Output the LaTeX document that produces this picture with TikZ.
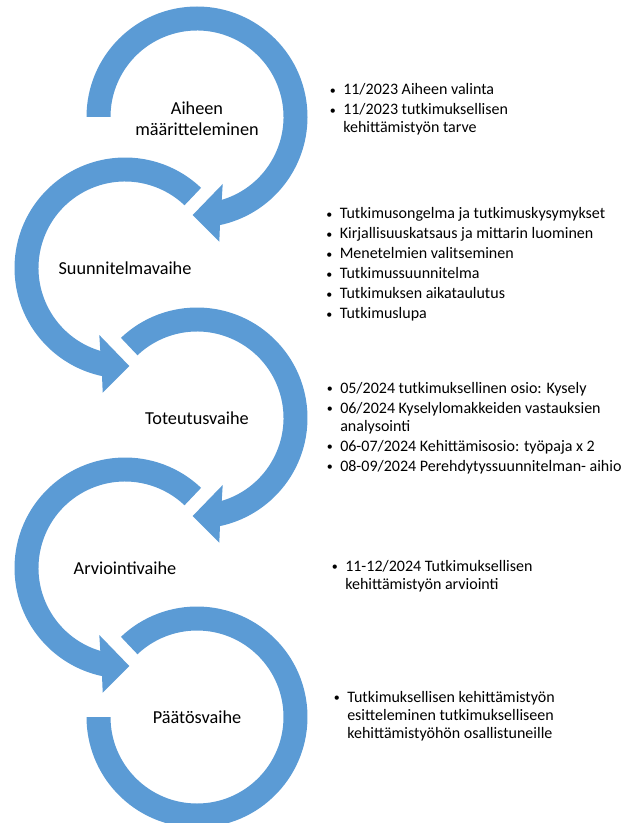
\documentclass[tikz,border=0pt]{standalone}
\usepackage{fontspec}
\setmainfont{Carlito}
\definecolor{ringblue}{HTML}{5B9BD5}
\newcommand{\stepbullet}{\llap{\raisebox{0.7pt}{\scalebox{0.75}{\textbullet}}\hspace{5.5pt}}}

\begin{document}
\begin{tikzpicture}[x=0.75pt,y=-0.75pt,
    ring/.style={fill=ringblue},
    phase/.style={align=center,inner sep=0pt,font=\fontsize{13.7}{15.75}\selectfont},
    steps/.style={anchor=base west,inner sep=0pt,font=\fontsize{12}{13.5}\selectfont}]
  \clip (0,0) rectangle (622,823);
  \coordinate (c1) at (197,117);
  \coordinate (c2) at (125,268);
  \coordinate (c3) at (197,418);
  \coordinate (c4) at (125,568);
  \coordinate (c5) at (197,717);
  % circular arrows
  \foreach \c/\a/\m in {c1/180/1, c2/226.5/-1, c3/226.5/1, c4/226.5/-1}{
    \fill[ring,shift={(\c)},xscale=\m] (\a:110.5) arc[start angle=\a,end angle=438,radius=110.5]
      -- (22.3,124.7) -- (-4.3,98) -- (25.7,67) -- (433.4:86.5)
      arc[start angle=433.4,end angle=\a,radius=86.5] -- cycle;
  }
  \fill[ring,shift={(c5)}] (226.5:110.5) arc[start angle=226.5,end angle=540,radius=110.5]
    -- (540:86.5) arc[start angle=540,end angle=226.5,radius=86.5] -- cycle;
  % phases
  \node[phase] (p1) at ([yshift=-1.5]c1) {Aiheen\\määritteleminen};
  \node[phase] (p2) at (c2) {Suunnitelmavaihe};
  \node[phase] (p3) at (c3) {Toteutusvaihe};
  \node[phase] (p4) at (c4) {Arviointivaihe};
  \node[phase] (p5) at (c5) {Päätösvaihe};
  % tasks
  \node[steps] (s1) at (343,95) {\begin{tabular}[t]{@{}l@{}}
    \stepbullet 11/2023 Aiheen valinta\\[1.5pt]
    \stepbullet 11/2023 tutkimuksellisen\\
    kehittämistyön tarve
  \end{tabular}};
  \node[steps] (s2) at (339.5,219) {\begin{tabular}[t]{@{}l@{}}
    \stepbullet Tutkimusongelma ja tutkimuskysymykset\\[1.5pt]
    \stepbullet Kirjallisuuskatsaus ja mittarin luominen\\[1.5pt]
    \stepbullet Menetelmien valitseminen\\[1.5pt]
    \stepbullet Tutkimussuunnitelma\\[1.5pt]
    \stepbullet Tutkimuksen aikataulutus\\[1.5pt]
    \stepbullet Tutkimuslupa
  \end{tabular}};
  \node[steps] (s3) at (340,393) {\begin{tabular}[t]{@{}l@{}}
    \stepbullet 05/2024 tutkimuksellinen osio: Kysely\\[1.5pt]
    \stepbullet 06/2024 Kyselylomakkeiden vastauksien\\
    analysointi\\[1.5pt]
    \stepbullet 06-07/2024 Kehittämisosio: työpaja x 2\\[1.5pt]
    \stepbullet 08-09/2024 Perehdytyssuunnitelman- aihio
  \end{tabular}};
  \node[steps] (s4) at (345,571) {\begin{tabular}[t]{@{}l@{}}
    \stepbullet 11-12/2024 Tutkimuksellisen\\
    kehittämistyön arviointi
  \end{tabular}};
  \node[steps] (s5) at (347,702) {\begin{tabular}[t]{@{}l@{}}
    \stepbullet Tutkimuksellisen kehittämistyön\\
    esitteleminen tutkimukselliseen\\
    kehittämistyöhön osallistuneille
  \end{tabular}};
\end{tikzpicture}
\end{document}
